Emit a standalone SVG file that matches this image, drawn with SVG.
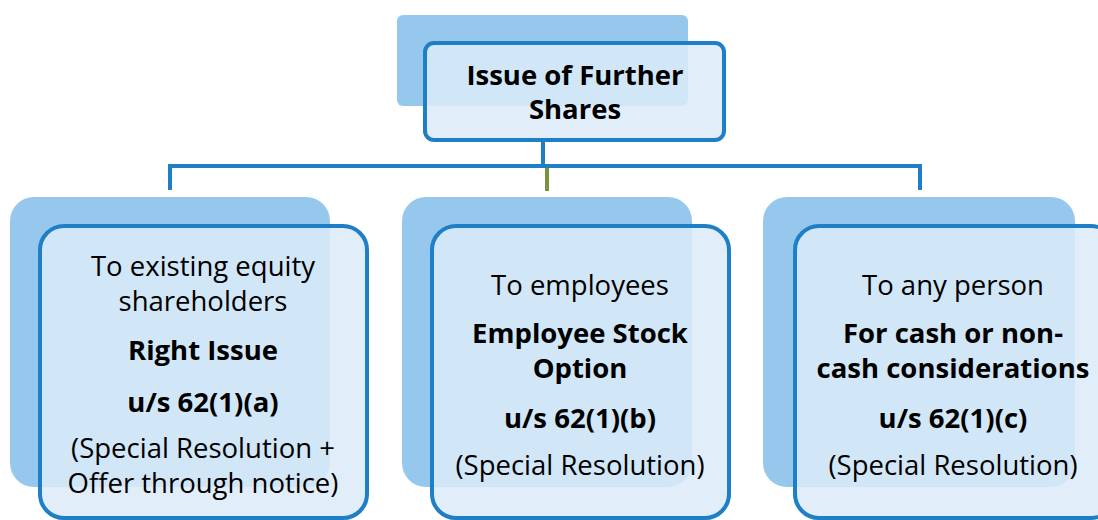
<svg xmlns="http://www.w3.org/2000/svg" width="1098" height="520" viewBox="0 0 1098 520">
<style>
.sh{fill:#95c8ec}
.bx{fill:#dcebf8;fill-opacity:0.85;stroke:#1f7fc6;stroke-width:4}
.conn{stroke:#1f7fc6;stroke-width:4;fill:none}
text{font-family:"Open Sans","Noto Sans","Liberation Sans",sans-serif;font-size:27.5px;fill:#000;text-anchor:middle}
.b{font-weight:bold}
</style>
<rect width="1098" height="520" fill="#fff"/>
<g id="connectors">
<path class="conn" d="M543 141V166M170 190V166H920V190"/>
<path d="M547 168V191" stroke="#77933c" stroke-width="4"/>
</g>
<g id="top">
<rect class="sh" x="397" y="15" width="291" height="91" rx="6"/>
<rect class="bx" x="425" y="43" width="299" height="97" rx="9"/>
<text class="b" x="575" y="85">Issue of Further</text>
<text class="b" x="575" y="119">Shares</text>
</g>
<g id="left">
<rect class="sh" x="10" y="197" width="320" height="290" rx="24"/>
<rect class="bx" x="40" y="226" width="327" height="292" rx="24"/>
<text x="203" y="276">To existing equity</text>
<text x="203" y="311">shareholders</text>
<text class="b" x="203" y="360">Right Issue</text>
<text class="b" x="203" y="412">u/s 62(1)(a)</text>
<text x="203" y="458">(Special Resolution +</text>
<text x="203" y="493">Offer through notice)</text>
</g>
<g id="middle">
<rect class="sh" x="402" y="197" width="290" height="290" rx="24"/>
<rect class="bx" x="432" y="226" width="297" height="292" rx="24"/>
<text x="580" y="295">To employees</text>
<text class="b" x="580" y="343">Employee Stock</text>
<text class="b" x="580" y="378">Option</text>
<text class="b" x="580" y="428">u/s 62(1)(b)</text>
<text x="580" y="475">(Special Resolution)</text>
</g>
<g id="right">
<rect class="sh" x="763" y="197" width="312" height="290" rx="24"/>
<rect class="bx" x="795" y="226" width="320" height="292" rx="24"/>
<text x="953" y="295">To any person</text>
<text class="b" x="953" y="343">For cash or non-</text>
<text class="b" x="953" y="378">cash considerations</text>
<text class="b" x="953" y="428">u/s 62(1)(c)</text>
<text x="953" y="475">(Special Resolution)</text>
</g>
</svg>
